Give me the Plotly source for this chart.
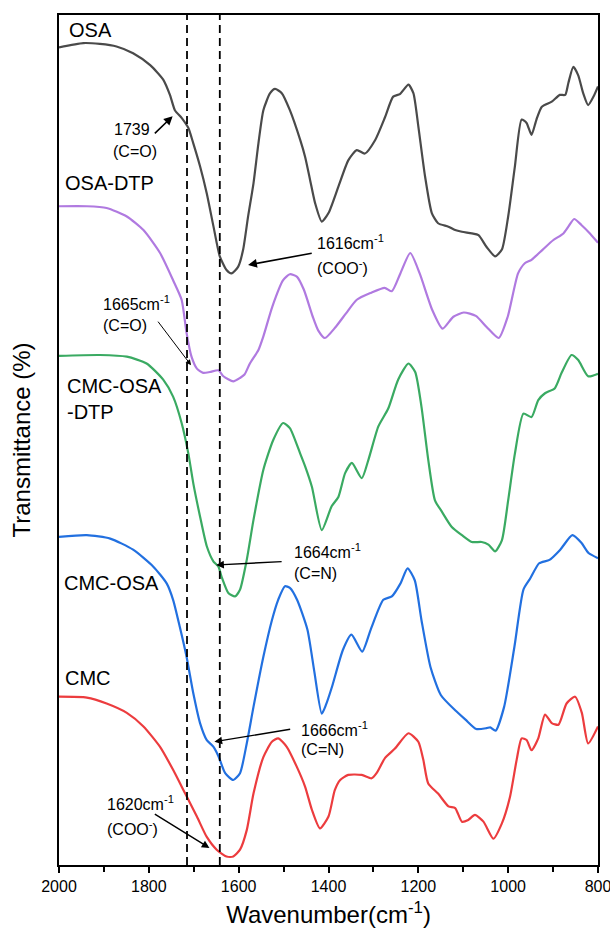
import plotly.graph_objects as go

# ---------------- data ----------------
osa_w = [2000, 1946, 1909, 1872, 1835, 1797, 1768, 1753, 1742, 1727, 1712, 1701, 1686, 1671, 1656, 1642,
         1627, 1616, 1601, 1590, 1579, 1567, 1556, 1545, 1530, 1519, 1504, 1486, 1463, 1452, 1441, 1430,
         1415, 1400, 1378, 1356, 1337, 1319, 1296, 1274, 1256, 1241, 1222, 1211, 1200, 1185, 1170, 1156,
         1133, 1118, 1103, 1081, 1066, 1048, 1029, 1014, 1000, 985, 970, 959, 948, 937, 925, 903,
         885, 873, 866, 855, 844, 833, 822, 810, 800]
osa_t = [96.2, 96.7, 96.6, 96.3, 95.5, 94.1, 92.4, 90.6, 88.8, 87.9, 86.7, 84.9, 82.2, 79.0, 75.1, 71.6,
         70.0, 69.6, 70.4, 72.4, 76.3, 80.2, 84.9, 88.8, 90.8, 91.3, 90.8, 88.8, 85.3, 83.3, 80.6, 77.9,
         75.7, 76.7, 79.8, 82.9, 84.1, 83.7, 85.3, 88.0, 90.4, 90.7, 91.8, 90.8, 86.9, 81.0, 76.7, 75.5,
         75.1, 74.7, 74.5, 74.3, 74.1, 72.7, 71.6, 72.4, 76.3, 82.2, 87.7, 87.3, 85.9, 87.7, 89.2, 89.8,
         90.6, 90.6, 92.0, 93.9, 92.9, 90.8, 89.4, 90.4, 91.6]

osadtp_w = [2000, 1938, 1894, 1849, 1812, 1775, 1746, 1727, 1716, 1705, 1693, 1679, 1664, 1645, 1634, 1612,
            1597, 1587, 1575, 1556, 1545, 1525, 1501, 1486, 1470, 1455, 1435, 1423, 1408, 1384, 1361, 1337,
            1306, 1275, 1259, 1240, 1218, 1197, 1169, 1146, 1122, 1099, 1072, 1048, 1021, 1001, 978, 963,
            948, 923, 900, 877, 866, 853, 837, 818, 800]
osadtp_t = [77.5, 77.5, 77.3, 76.3, 74.7, 72.0, 68.8, 66.5, 62.6, 59.8, 58.4, 57.9, 58.0, 58.2, 57.5, 56.9,
            57.3, 57.7, 59.0, 60.6, 62.2, 65.7, 68.8, 69.5, 69.2, 67.7, 64.5, 62.9, 62.0, 63.3, 64.9, 66.5,
            67.3, 67.9, 67.5, 69.6, 72.0, 69.6, 65.3, 63.1, 64.5, 65.0, 64.6, 63.3, 62.0, 64.5, 69.6, 70.8,
            71.2, 72.4, 73.5, 74.3, 75.1, 76.0, 75.3, 74.3, 73.2]

cmcosadtp_w = [2000, 1909, 1849, 1805, 1768, 1746, 1727, 1712, 1701, 1686, 1671, 1656, 1645, 1638, 1623, 1608,
               1597, 1582, 1567, 1545, 1523, 1501, 1486, 1463, 1452, 1437, 1415, 1393, 1378, 1363, 1348, 1326,
               1311, 1289, 1267, 1245, 1222, 1207, 1193, 1178, 1163, 1148, 1126, 1103, 1081, 1059, 1044, 1029,
               1014, 1000, 985, 966, 948, 933, 918, 896, 881, 859, 844, 822, 800]
cmcosadtp_t = [59.9, 60.0, 59.8, 59.0, 57.1, 55.1, 52.0, 48.4, 44.9, 41.0, 37.5, 35.7, 35.1, 33.9, 32.0, 31.6,
               32.4, 35.9, 40.6, 46.5, 50.0, 52.0, 51.4, 48.4, 46.9, 44.5, 39.4, 42.2, 43.3, 46.1, 47.3, 45.5,
               47.7, 51.6, 53.7, 57.1, 59.0, 58.0, 53.9, 47.7, 42.9, 41.6, 39.8, 38.8, 38.0, 38.0, 37.7, 36.9,
               38.2, 42.9, 48.4, 53.1, 52.7, 54.7, 55.5, 56.1, 57.9, 60.0, 59.4, 57.5, 57.8]

cmcosa_w = [2000, 1938, 1886, 1835, 1790, 1760, 1746, 1731, 1716, 1701, 1686, 1671, 1656, 1645, 1630, 1612,
            1597, 1582, 1567, 1545, 1526, 1512, 1497, 1486, 1470, 1447, 1432, 1415, 1406, 1392, 1368, 1349,
            1325, 1306, 1278, 1259, 1240, 1224, 1208, 1193, 1173, 1150, 1118, 1095, 1071, 1048, 1040, 1028,
            1009, 986, 966, 951, 931, 908, 884, 857, 837, 821, 800]
cmcosa_t = [38.6, 38.8, 38.4, 37.1, 35.1, 33.1, 31.2, 28.0, 24.5, 20.2, 16.7, 14.7, 13.9, 12.8, 10.8, 10.0,
            10.8, 14.3, 18.6, 24.5, 28.8, 31.2, 32.8, 32.6, 31.2, 27.7, 22.9, 17.8, 18.8, 21.0, 25.3, 27.1,
            25.1, 27.7, 31.2, 31.6, 33.1, 34.9, 33.5, 28.8, 23.3, 20.0, 18.2, 17.1, 16.0, 16.1, 16.2, 15.8,
            18.6, 25.7, 32.4, 33.7, 35.5, 35.9, 37.1, 38.8, 37.9, 36.7, 36.1]

cmc_w = [2000, 1938, 1894, 1849, 1812, 1775, 1746, 1719, 1693, 1671, 1649, 1627, 1612, 1597, 1582, 1567,
         1545, 1526, 1512, 1493, 1471, 1452, 1437, 1419, 1400, 1386, 1374, 1356, 1326, 1304, 1293, 1274,
         1252, 1222, 1200, 1189, 1178, 1156, 1133, 1118, 1103, 1089, 1074, 1055, 1033, 1014, 996, 981,
         970, 959, 948, 933, 918, 903, 888, 870, 851, 836, 822, 800]
cmc_t = [19.8, 19.7, 19.0, 17.9, 16.3, 13.9, 11.2, 8.4, 5.7, 3.3, 1.8, 1.0, 1.0, 1.8, 4.1, 8.4,
         12.7, 14.5, 14.9, 13.9, 11.6, 9.2, 6.5, 4.3, 5.7, 8.8, 10.0, 10.6, 10.6, 10.2, 10.8, 12.6,
         13.7, 15.5, 14.5, 12.4, 9.6, 8.4, 6.9, 6.7, 5.1, 5.3, 5.9, 5.1, 3.1, 4.9, 8.0, 12.4,
         14.9, 14.7, 13.5, 14.9, 17.7, 16.7, 16.5, 19.0, 19.8, 17.9, 14.3, 16.3]

series_names = ["OSA", "OSA-DTP", "CMC-OSA-DTP", "CMC-OSA", "CMC"]
series_w = [osa_w, osadtp_w, cmcosadtp_w, cmcosa_w, cmc_w]
series_t = [osa_t, osadtp_t, cmcosadtp_t, cmcosa_t, cmc_t]
series_colors = ["#4a4a4a", "#b07ae0", "#3aaa62", "#2270e0", "#ec3c3e"]

# x tick labels
tick_vals = [2000, 1800, 1600, 1400, 1200, 1000, 800]
minor_vals = [1900, 1700, 1500, 1300, 1100, 900]

# dashed guide positions (cm-1)
guide_w = [1715, 1642]

# curve labels: (text, wavenumber, transmittance)
curve_labels = [("OSA", 1982, 98.2), ("OSA-DTP", 1991, 80.2), ("CMC-OSA<br>-DTP", 1987, 54.8),
                ("CMC-OSA", 1993, 33.2), ("CMC", 1991, 22.0)]

# peak notes: text lines (text, w, t, anchor)
peak_text = [("1739", 1838, 86.5, "center"), ("(C=O)", 1830, 83.9, "center"),
             ("1616cm<sup>-1</sup>", 1430, 73.3, "left"), ("(COO<sup>-</sup>)", 1430, 70.4, "left"),
             ("1665cm<sup>-1</sup>", 1907, 66.1, "left"), ("(C=O)", 1907, 63.5, "left"),
             ("1664cm<sup>-1</sup>", 1482, 37.0, "left"), ("(C=N)", 1482, 34.3, "left"),
             ("1666cm<sup>-1</sup>", 1466, 16.0, "left"), ("(C=N)", 1466, 13.6, "left"),
             ("1620cm<sup>-1</sup>", 1898, 7.3, "left"), ("(COO<sup>-</sup>)", 1898, 4.3, "left")]

# arrows: (tail w, tail t, head w, head t, width)
peak_arrows = [(1790, 85.9, 1747, 88.1, 1.6), (1434, 72.0, 1579, 70.6, 1.6),
               (1782, 64.1, 1706, 58.8, 1.0), (1501, 35.7, 1650, 35.3, 1.4),
               (1482, 16.0, 1654, 14.5, 1.4), (1790, 6.1, 1665, 2.0, 1.4)]

FONT = "Arial, Liberation Sans, sans-serif"

fig = go.Figure()
for name, w, t, c in zip(series_names, series_w, series_t, series_colors):
    fig.add_trace(go.Scatter(x=w, y=t, mode="lines", name=name,
                             line=dict(color=c, width=2.2, shape="spline", smoothing=0.6),
                             showlegend=False))

shapes = []
for g in guide_w:
    shapes.append(dict(type="line", xref="x", yref="paper", x0=g, x1=g, y0=0, y1=1,
                       line=dict(color="black", width=1.8, dash="8px,5px")))

annotations = []
for txt, w, t in curve_labels:
    annotations.append(dict(text=txt, x=w, y=t, xref="x", yref="y", showarrow=False,
                            xanchor="left", yanchor="middle", align="left",
                            font=dict(family=FONT, size=20, color="black")))
for txt, w, t, anc in peak_text:
    annotations.append(dict(text=txt, x=w, y=t, xref="x", yref="y", showarrow=False,
                            xanchor=anc, yanchor="middle",
                            font=dict(family=FONT, size=16, color="black")))
for tw, tt, hw, ht, lw in peak_arrows:
    annotations.append(dict(text="", x=hw, y=ht, xref="x", yref="y", ax=tw, ay=tt,
                            axref="x", ayref="y", showarrow=True, arrowhead=2,
                            arrowsize=1.1, arrowwidth=lw, arrowcolor="black", standoff=0))

fig.update_layout(
    width=610, height=934,
    margin=dict(l=59, r=12, t=15, b=69, autoexpand=False),
    plot_bgcolor="white", paper_bgcolor="white",
    shapes=shapes, annotations=annotations,
    font=dict(family=FONT, color="black"),
    xaxis=dict(range=[2000, 800], showline=True, linecolor="black", linewidth=1.6, mirror=True,
               automargin=False, ticklabeloverflow="allow",
               ticks="outside", ticklen=6, tickwidth=1.5, tickcolor="black",
               tickvals=tick_vals, ticktext=[str(v) for v in tick_vals],
               minor=dict(tickvals=minor_vals, ticks="outside",
                          ticklen=5, tickwidth=1.5, tickcolor="black"),
               tickfont=dict(family=FONT, size=16, color="black"),
               showgrid=False, zeroline=False,
               title=dict(text="Wavenumber(cm<sup>-1</sup>)", font=dict(family=FONT, size=24, color="black"),
                          standoff=12)),
    yaxis=dict(range=[0, 100], showline=True, linecolor="black", linewidth=1.6, mirror=True,
               automargin=False,
               showticklabels=False, ticks="", showgrid=False, zeroline=False,
               title=dict(text="Transmittance (%)", font=dict(family=FONT, size=24, color="black"),
                          standoff=20)),
)

fig.write_html("out.html")
